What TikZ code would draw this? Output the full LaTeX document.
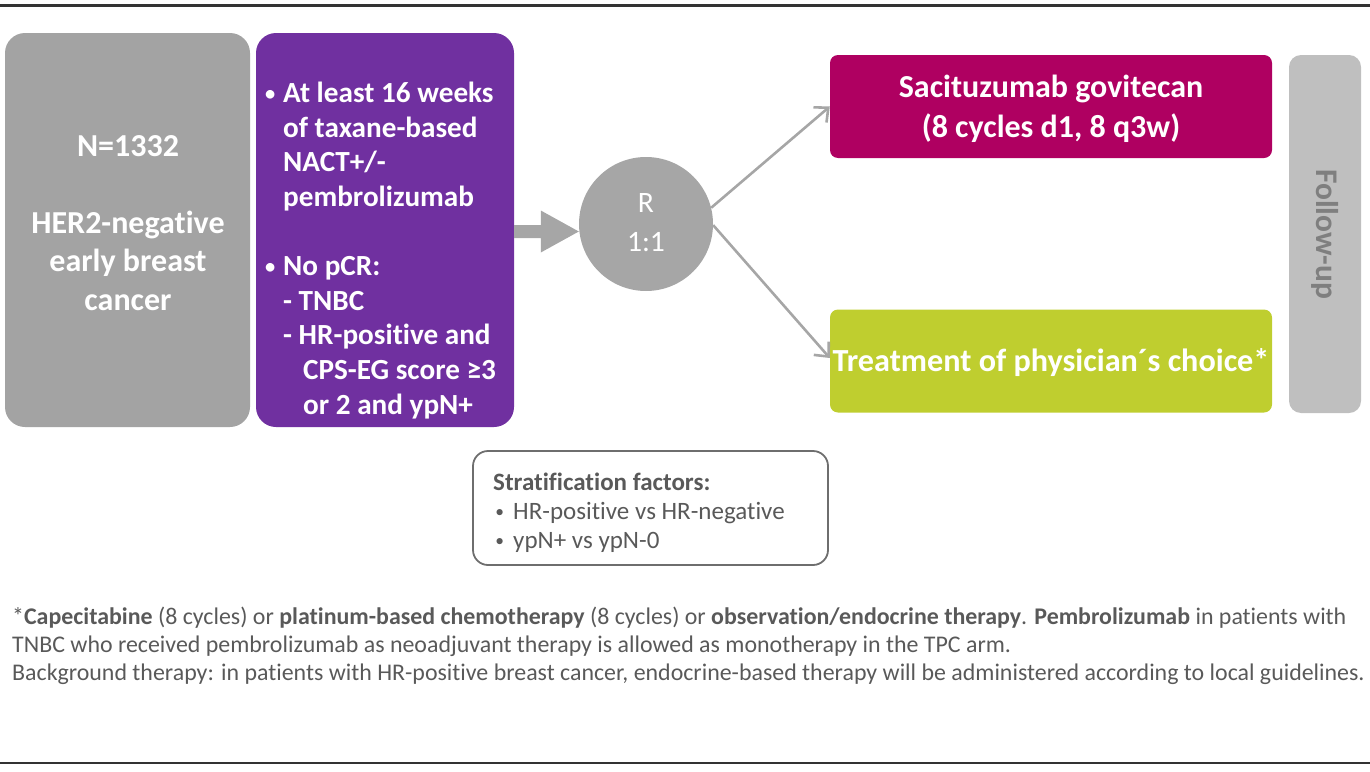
\documentclass[tikz,border=0pt]{standalone}
\usepackage{fontspec}
\usepackage{graphicx}
\setmainfont{Carlito}[Ligatures=NoCommon]
\usetikzlibrary{arrows.meta,calc}
\definecolor{popgray}{HTML}{A3A3A3}
\definecolor{critpurple}{HTML}{7030A0}
\definecolor{randgray}{HTML}{A6A6A6}
\definecolor{sgmagenta}{HTML}{AF0061}
\definecolor{tpcgreen}{HTML}{BFCE2F}
\definecolor{fugray}{HTML}{BFBFBF}
\definecolor{futext}{HTML}{7F7F7F}
\definecolor{foottext}{HTML}{595959}
\definecolor{rulecol}{HTML}{333333}
\definecolor{stratline}{HTML}{6E6E6E}
\newcommand{\smallbul}{\raisebox{0.08em}{\scalebox{0.7}{•}}}
\begin{document}
\begin{tikzpicture}[x=1pt,y=-1pt,
  panel/.style={rectangle, rounded corners=20pt, inner sep=0pt},
  armbox/.style={rectangle, rounded corners=8pt, inner sep=0pt, minimum width=442pt, minimum height=103pt},
  whitetext/.style={text=white, inner sep=0pt},
  thinarrow/.style={draw=randgray, line width=2.6pt, -{Straight Barb[length=11pt,width=20pt,line width=2.6pt]}},
  rulestyle/.style={draw=rulecol, line width=2.2pt}]
\useasboundingbox (0,0) rectangle (1370,771);
% rules
\draw[rulestyle] (0,5.5) -- (1370,5.5);
\draw[rulestyle] (0,763) -- (1370,763);
% population box
\node[panel, fill=popgray, minimum width=245pt, minimum height=394pt] (pop) at (127.5,230) {};
\node[whitetext, font=\bfseries\fontsize{32}{38.5}\selectfont, align=center, anchor=base] (poptext) at (128,310)
  {N=1332\\[38.5pt]HER2-negative\\early breast\\cancer};
% criteria box
\node[panel, fill=critpurple, minimum width=258pt, minimum height=394pt] (crit) at (385,230) {};
\node[whitetext, font=\bfseries\fontsize{29.2}{34.6}\selectfont, align=left, anchor=base west] (crittext) at (283,414)
  {\llap{\smallbul\hspace{8pt}}At least 16 weeks\\
   of taxane-based\\
   NACT+/-\\
   pembrolizumab\\[34.6pt]
   \llap{\smallbul\hspace{8pt}}No pCR:\\
   - TNBC\\
   - HR-positive and\\
   \hspace*{20pt}CPS-EG score ≥3\\
   \hspace*{20pt}or 2 and ypN+};
% randomisation circle
\node[circle, fill=randgray, minimum size=134pt, inner sep=0pt] (rand) at (646,224) {};
\node[whitetext, font=\fontsize{29.6}{39}\selectfont, align=center, anchor=base] (randtext) at (646,251) {R\\1:1};
% fat arrow
\coordinate (fa) at (crit.east |- 0,231.5);
\coordinate (fb) at (rand.west |- 0,231.5);
\fill[randgray] ($(fa)+(0,-6.5)$) -- ($(fb)+(-38,-6.5)$) -- ($(fb)+(-38,-21)$) -- (fb)
  -- ($(fb)+(-38,21)$) -- ($(fb)+(-38,6.5)$) -- ($(fa)+(0,6.5)$) -- cycle;
% arms
\node[armbox, fill=sgmagenta] (sg) at (1051,106.5) {};
\node[whitetext, font=\bfseries\fontsize{32}{40}\selectfont, align=center, anchor=base] (sgtext) at (1051,137)
  {Sacituzumab govitecan\\(8 cycles d1, 8 q3w)};
\node[armbox, fill=tpcgreen] (tpc) at (1051,361) {};
\node[whitetext, font=\bfseries\fontsize{32.2}{40}\selectfont, anchor=base] (tpctext) at (1051,371)
  {Treatment of physician´s choice*};
% follow-up
\node[rectangle, rounded corners=12pt, fill=fugray, minimum width=72pt, minimum height=358pt, inner sep=0pt] (fu) at (1325,234) {};
\node[text=futext, font=\bfseries\fontsize{31.5}{38}\selectfont, rotate=-90, inner sep=0pt] (futext) at (fu.center) {Follow-up};
% thin arrows
\draw[thinarrow] (rand.14) -- (sg.west);
\draw[thinarrow] (rand.-1) -- ([yshift=3pt]tpc.west);
% stratification box
\node[rectangle, rounded corners=15pt, draw=stratline, line width=1.8pt, minimum width=355pt, minimum height=114pt, inner sep=0pt] (strat) at (650.5,508) {};
\node[text=foottext, font=\fontsize{25}{29}\selectfont, align=left, anchor=base west, inner sep=0pt] (strattext) at (493,548)
  {\textbf{Stratification factors:}\\
   \hspace*{20pt}\llap{\smallbul\hspace{9pt}}HR-positive vs HR-negative\\
   \hspace*{20pt}\llap{\smallbul\hspace{9pt}}ypN+ vs ypN-0};
% footnote
\node[text=foottext, font=\fontsize{23.9}{28}\selectfont, align=left, anchor=base west, inner sep=0pt] (foot) at (12,680)
  {*\textbf{Capecitabine} (8 cycles) or \textbf{platinum-based chemotherapy} (8 cycles) or \textbf{observation/endocrine therapy}. \textbf{Pembrolizumab} in patients with\\
   TNBC who received pembrolizumab as neoadjuvant therapy is allowed as monotherapy in the TPC arm.\\
   Background therapy: in patients with HR-positive breast cancer, endocrine-based therapy will be administered according to local guidelines.};
\end{tikzpicture}
\end{document}
